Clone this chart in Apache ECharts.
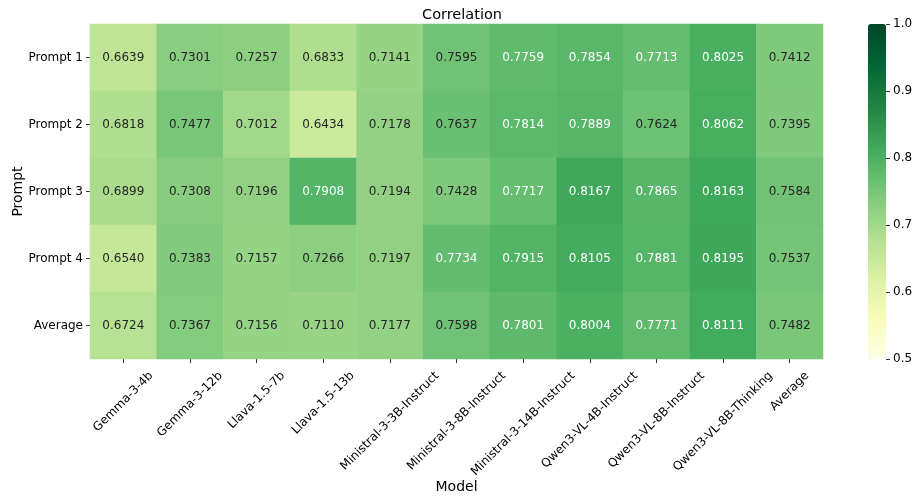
<!DOCTYPE html>
<html>
<head>
<meta charset="utf-8">
<script src="https://cdn.jsdelivr.net/npm/echarts@6/dist/echarts.min.js"></script>
<style>
html,body{margin:0;padding:0;background:#fff;}
#chart{width:914px;height:498px;}
</style>
</head>
<body>
<div id="chart"></div>
<script>
const models = ['Gemma-3-4b','Gemma-3-12b','Llava-1.5-7b','Llava-1.5-13b','Ministral-3-3B-Instruct','Ministral-3-8B-Instruct','Ministral-3-14B-Instruct','Qwen3-VL-4B-Instruct','Qwen3-VL-8B-Instruct','Qwen3-VL-8B-Thinking','Average'];
const prompts = ['Prompt 1','Prompt 2','Prompt 3','Prompt 4','Average'];
const prompt1 = [0.6639,0.7301,0.7257,0.6833,0.7141,0.7595,0.7759,0.7854,0.7713,0.8025,0.7412];
const prompt2 = [0.6818,0.7477,0.7012,0.6434,0.7178,0.7637,0.7814,0.7889,0.7624,0.8062,0.7395];
const prompt3 = [0.6899,0.7308,0.7196,0.7908,0.7194,0.7428,0.7717,0.8167,0.7865,0.8163,0.7584];
const prompt4 = [0.6540,0.7383,0.7157,0.7266,0.7197,0.7734,0.7915,0.8105,0.7881,0.8195,0.7537];
const average = [0.6724,0.7367,0.7156,0.7110,0.7177,0.7598,0.7801,0.8004,0.7771,0.8111,0.7482];
const colorbarTicks = [0.5,0.6,0.7,0.8,0.9,1.0];

const rows = [prompt1, prompt2, prompt3, prompt4, average];
const FONT = '"DejaVu Sans", sans-serif';
const YLGN = ['#ffffe5','#f7fcb9','#d9f0a3','#addd8e','#78c679','#41ab5d','#238443','#006837','#004529'];

const data = [];
rows.forEach((row, yi) => {
  row.forEach((v, xi) => {
    data.push({value: [xi, yi, v], label: {color: v > 0.765 ? '#ffffff' : '#262626'}});
  });
});

// measure label widths so rotated labels are centred under their ticks (matplotlib style)
const cv = document.createElement('canvas').getContext('2d');
cv.font = '12px "DejaVu Sans"';
const LH = 14;
const xCats = models.map(m => {
  const L = cv.measureText(m).width;
  return {value: m, textStyle: {align: 'center', verticalAlign: 'top', lineHeight: LH,
    padding: [L / 4, L / 2 + LH, 0, 0]}};
});

const chart = echarts.init(document.getElementById('chart'), null, {renderer: 'canvas'});
chart.setOption({
  animation: false,
  backgroundColor: '#ffffff',
  title: {text: 'Correlation', left: 457, top: 3, textAlign: 'center',
    textStyle: {fontFamily: FONT, fontSize: 14.5, fontWeight: 'normal', color: '#000'}},
  grid: [
    {left: 90, top: 24, width: 733, height: 335, containLabel: false, outerBoundsMode: 'none'},
    {left: 868, top: 24, width: 18, height: 335, containLabel: false, outerBoundsMode: 'none'}
  ],
  xAxis: [
    {type: 'category', gridIndex: 0, data: xCats, position: 'bottom',
     name: 'Model', nameLocation: 'middle', nameGap: 121, nameMoveOverlap: false,
     nameTextStyle: {fontFamily: FONT, fontSize: 14, color: '#000'},
     axisLine: {show: false}, splitLine: {show: false}, splitArea: {show: false},
     axisTick: {show: true, alignWithLabel: true, length: 4, lineStyle: {color: '#333'}},
     axisLabel: {interval: 0, rotate: 45, margin: 5, fontFamily: FONT, fontSize: 12, color: '#000'}},
    {type: 'value', gridIndex: 1, show: false, min: 0, max: 1,
     axisLine: {show: false}, axisTick: {show: false}, axisLabel: {show: false}, splitLine: {show: false}}
  ],
  yAxis: [
    {type: 'category', gridIndex: 0, data: prompts, inverse: true,
     name: 'Prompt', nameLocation: 'middle', nameGap: 65, nameRotate: 90, nameMoveOverlap: false,
     nameTextStyle: {fontFamily: FONT, fontSize: 14, color: '#000'},
     axisLine: {show: false}, splitLine: {show: false}, splitArea: {show: false},
     axisTick: {show: true, alignWithLabel: true, length: 4, lineStyle: {color: '#333'}},
     axisLabel: {margin: 7, fontFamily: FONT, fontSize: 12, color: '#000'}},
    {type: 'value', gridIndex: 1, position: 'right', min: colorbarTicks[0], max: colorbarTicks[colorbarTicks.length - 1], interval: 0.1,
     axisLine: {show: false, onZero: false}, splitLine: {show: false},
     axisTick: {show: true, length: 4, lineStyle: {color: '#333'}},
     axisLabel: {margin: 7, fontFamily: FONT, fontSize: 12, color: '#000', formatter: v => v.toFixed(1)}}
  ],
  visualMap: {
    type: 'continuous', min: 0.5, max: 1.0, dimension: 2, seriesIndex: 0,
    calculable: false, realtime: false, orient: 'vertical', hoverLink: false,
    left: 868, top: 24, itemWidth: 18, itemHeight: 335, padding: 0,
    text: ['', ''], textGap: 0, handleSize: 0, indicatorSize: 0,
    textStyle: {color: 'rgba(0,0,0,0)', fontSize: 0},
    indicatorStyle: {opacity: 0},
    inRange: {color: YLGN}
  },
  series: [
    {type: 'heatmap', xAxisIndex: 0, yAxisIndex: 0, data: data,
     label: {show: true, fontFamily: FONT, fontSize: 12, formatter: p => p.value[2].toFixed(4)},
     itemStyle: {borderWidth: 0},
     emphasis: {disabled: true}}
  ]
});
</script>
</body>
</html>
